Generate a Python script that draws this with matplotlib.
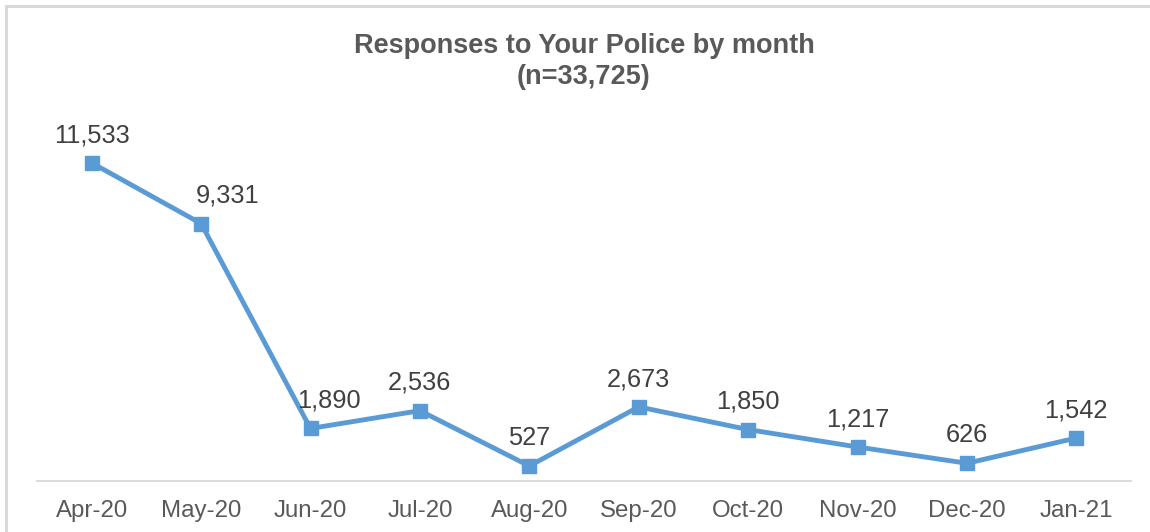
import matplotlib.pyplot as plt
from matplotlib.patches import Rectangle

plt.rcParams['font.family'] = ['Liberation Sans', 'DejaVu Sans']

months = ['Apr-20', 'May-20', 'Jun-20', 'Jul-20', 'Aug-20',
          'Sep-20', 'Oct-20', 'Nov-20', 'Dec-20', 'Jan-21']
responses = [11533, 9331, 1890, 2536, 527, 2673, 1850, 1217, 626, 1542]

W, H = 1150, 532
fig = plt.figure(figsize=(W / 100, H / 100), dpi=100)

# chart border (only top and left visible in the original crop)
fig.patches.append(Rectangle((6 / W, -0.1), 1.2, 1 - 6 / H + 0.1,
                             transform=fig.transFigure, fill=False,
                             edgecolor='#D9D9D9', linewidth=2.2))

# plot area in pixel terms: x 37..1131, y 95..480.5
ax = fig.add_axes([37 / W, (H - 480.5) / H, (1131 - 37) / W, (480.5 - 95) / H])
x = range(len(months))
ax.plot(x, responses, color='#5B9BD5', linewidth=3.5, marker='s',
        markersize=10.5, clip_on=False)

# a couple of labels sit to the right of the steep segment, as in the original
label_dx = {1: 19, 2: 13}
for i, v in enumerate(responses):
    ax.annotate(f'{v:,}', (i, v), xytext=(label_dx.get(i, 0), 15),
                textcoords='offset points', ha='center', va='baseline',
                fontsize=18.3, color='#404040')

ax.set_xlim(-0.5, len(months) - 0.5)
ax.set_ylim(0, 14000)
ax.set_xticks(list(x))
ax.set_xticklabels(months, fontsize=17.3, color='#595959')
ax.tick_params(axis='x', length=0, pad=14)
ax.set_yticks([])
for side in ['top', 'left', 'right']:
    ax.spines[side].set_visible(False)
ax.spines['bottom'].set_color('#D9D9D9')
ax.spines['bottom'].set_linewidth(1.3)

fig.text(584 / W, 1 - 46 / H, 'Responses to Your Police by month',
         ha='center', va='center', fontsize=19.5, fontweight='bold',
         color='#595959')
fig.text(584 / W, 1 - 77 / H, '(n=33,725)', ha='center', va='center',
         fontsize=19.5, fontweight='bold', color='#595959')

fig.savefig('out.png', dpi=100)
